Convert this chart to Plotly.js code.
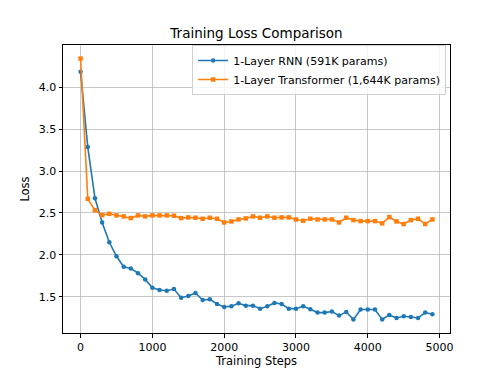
<!DOCTYPE html>
<html>
<head>
<meta charset="utf-8">
<script src="https://cdn.plot.ly/plotly-3.0.1.min.js"></script>
<style>html,body{margin:0;padding:0;background:#fff;}#chart{width:500px;height:375px;}</style>
</head>
<body>
<div id="chart"></div>
<script>
const steps = [0,100,200,300,400,500,600,700,800,900,1000,1100,1200,1300,1400,1500,1600,1700,1800,1900,2000,2100,2200,2300,2400,2500,2600,2700,2800,2900,3000,3100,3200,3300,3400,3500,3600,3700,3800,3900,4000,4100,4200,4300,4400,4500,4600,4700,4800,4900];
const rnnLoss = [4.186,3.287,2.677,2.387,2.150,1.983,1.857,1.837,1.781,1.706,1.607,1.579,1.571,1.591,1.488,1.508,1.544,1.460,1.468,1.413,1.378,1.385,1.421,1.393,1.393,1.357,1.385,1.425,1.413,1.357,1.357,1.385,1.350,1.310,1.310,1.322,1.274,1.318,1.227,1.346,1.346,1.346,1.227,1.282,1.246,1.266,1.258,1.246,1.310,1.290];
const transformerLoss = [4.345,2.669,2.534,2.475,2.490,2.471,2.459,2.439,2.471,2.459,2.471,2.471,2.471,2.467,2.439,2.447,2.443,2.431,2.443,2.431,2.387,2.399,2.423,2.435,2.459,2.443,2.459,2.443,2.447,2.447,2.423,2.407,2.431,2.423,2.423,2.423,2.387,2.443,2.415,2.403,2.403,2.403,2.376,2.451,2.399,2.368,2.415,2.431,2.368,2.423];
const seriesNames = ["1-Layer RNN (591K params)","1-Layer Transformer (1,644K params)"];
const xTicks = [0,1000,2000,3000,4000,5000];
const yTicks = [1.5,2.0,2.5,3.0,3.5,4.0];

const font = "DejaVu Sans, sans-serif";
const traces = [
  {x: steps, y: rnnLoss, name: seriesNames[0], type: "scatter", mode: "lines+markers",
   line: {color: "#1f77b4", width: 1.6}, marker: {symbol: "circle", size: 4.5, color: "#1f77b4"}},
  {x: steps, y: transformerLoss, name: seriesNames[1], type: "scatter", mode: "lines+markers",
   line: {color: "#ff7f0e", width: 1.6}, marker: {symbol: "square", size: 4.5, color: "#ff7f0e"}}
];
const axisCommon = {
  showline: true, linecolor: "#000", linewidth: 1, mirror: true,
  ticks: "outside", ticklen: 3.5, tickwidth: 1, tickcolor: "#000",
  showgrid: true, gridcolor: "#b0b0b0", gridwidth: 0.7, zeroline: false,
  tickfont: {family: font, size: 11, color: "#000"}
};
const layout = {
  width: 500, height: 375,
  margin: {l: 63, r: 50, t: 45, b: 42},
  paper_bgcolor: "#fff", plot_bgcolor: "#fff",
  font: {family: font, color: "#000"},
  title: {text: "Training Loss Comparison", font: {family: font, size: 13.5, color: "#000"},
          x: 0.513, xanchor: "center", y: 0.912, yanchor: "middle"},
  xaxis: Object.assign({}, axisCommon, {
    range: [-245, 5145], tickvals: xTicks, tickformat: "d",
    title: {text: "Training Steps", font: {family: font, size: 11.5, color: "#000"}, standoff: 4}
  }),
  yaxis: Object.assign({}, axisCommon, {
    range: [1.066, 4.507], tickvals: yTicks, tickformat: ".1f",
    title: {text: "Loss", font: {family: font, size: 11.5, color: "#000"}, standoff: 6}
  }),
  showlegend: true,
  legend: {x: 0.99, xanchor: "right", y: 1.0, yanchor: "top",
           bgcolor: "rgba(255,255,255,0.8)", bordercolor: "#d0d0d0", borderwidth: 1,
           font: {family: font, size: 11, color: "#000"}, itemwidth: 30, tracegroupgap: 0}
};
Plotly.newPlot("chart", traces, layout, {staticPlot: true, displayModeBar: false});
</script>
</body>
</html>
